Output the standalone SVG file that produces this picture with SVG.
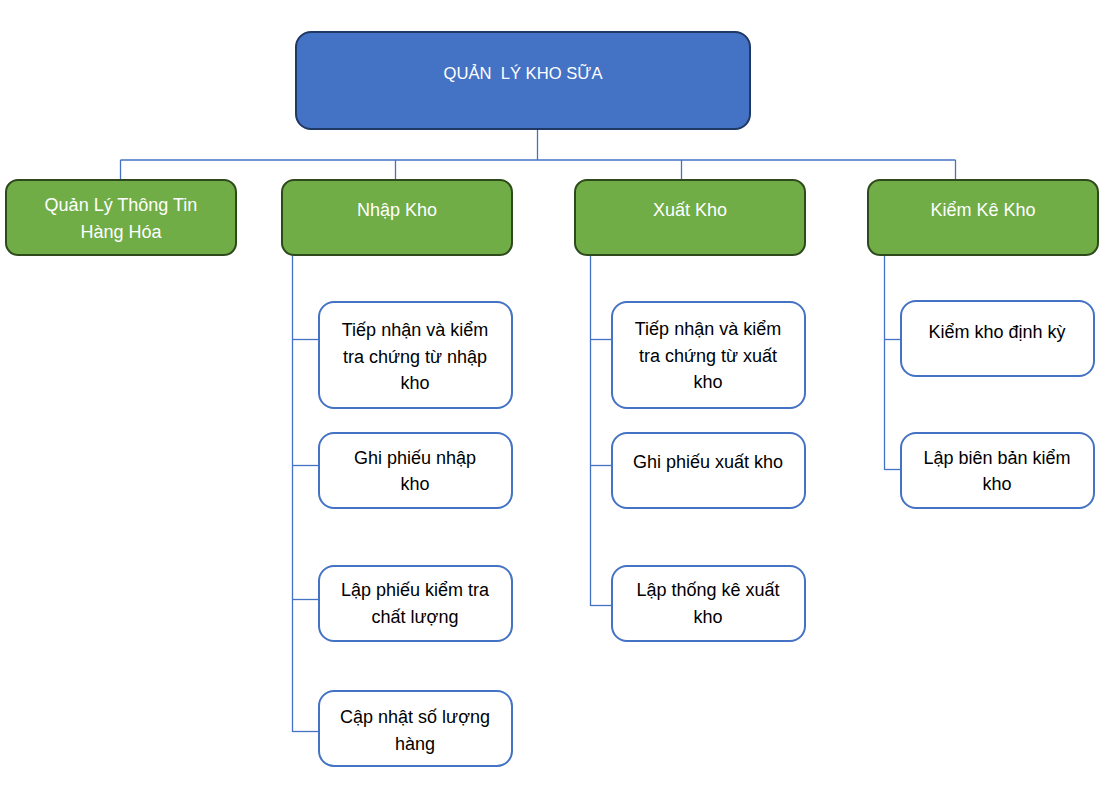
<svg xmlns="http://www.w3.org/2000/svg" width="1114" height="785" viewBox="0 0 1114 785">
<style>
.root{fill:#4472C4;stroke:#203864;stroke-width:2}
.cat{fill:#70AD47;stroke:#2E4A1C;stroke-width:2}
.leaf{fill:#FFFFFF;stroke:#4472C4;stroke-width:2}
.conn line{stroke:#4472C4;stroke-width:1.3}
text{font-family:"Liberation Sans",Arial,sans-serif;font-size:18px;text-anchor:middle}
.w{fill:#FFFFFF}
.k{fill:#000000}
.title{font-size:16.6px;white-space:pre}
</style>
<rect width="1114" height="785" fill="#FFFFFF"/>
<g id="connectors" class="conn">
<line x1="537.5" y1="129" x2="537.5" y2="160"/>
<line x1="120.5" y1="160" x2="955.5" y2="160"/>
<line x1="120.5" y1="160" x2="120.5" y2="180"/>
<line x1="395.5" y1="160" x2="395.5" y2="180"/>
<line x1="681.5" y1="160" x2="681.5" y2="180"/>
<line x1="955.5" y1="160" x2="955.5" y2="180"/>
<line x1="292.5" y1="255" x2="292.5" y2="732"/>
<line x1="292.5" y1="339.5" x2="319" y2="339.5"/>
<line x1="292.5" y1="465.5" x2="319" y2="465.5"/>
<line x1="292.5" y1="599.5" x2="319" y2="599.5"/>
<line x1="292.5" y1="731.5" x2="319" y2="731.5"/>
<line x1="590.5" y1="255" x2="590.5" y2="606"/>
<line x1="590.5" y1="339.5" x2="612" y2="339.5"/>
<line x1="590.5" y1="465.5" x2="612" y2="465.5"/>
<line x1="590.5" y1="605.5" x2="612" y2="605.5"/>
<line x1="884.5" y1="255" x2="884.5" y2="470"/>
<line x1="884.5" y1="339.5" x2="901" y2="339.5"/>
<line x1="884.5" y1="469.5" x2="901" y2="469.5"/>
</g>
<g id="root">
<rect class="root" x="296" y="32" width="454" height="97" rx="15"/>
<text class="w title" x="523" y="79">QUẢN  LÝ KHO SỮA</text>
</g>
<g id="cat-thongtin">
<rect class="cat" x="6" y="180" width="230" height="75" rx="12"/>
<text class="w" x="121" y="211">Quản Lý Thông Tin</text>
<text class="w" x="121" y="238">Hàng Hóa</text>
</g>
<g id="cat-nhap">
<rect class="cat" x="282" y="180" width="230" height="75" rx="12"/>
<text class="w" x="397" y="216">Nhập Kho</text>
</g>
<g id="cat-xuat">
<rect class="cat" x="575" y="180" width="230" height="75" rx="12"/>
<text class="w" x="690" y="216">Xuất Kho</text>
</g>
<g id="cat-kiemke">
<rect class="cat" x="868" y="180" width="230" height="75" rx="12"/>
<text class="w" x="983" y="216">Kiểm Kê Kho</text>
</g>
<g id="nhap-1">
<rect class="leaf" x="319" y="302" width="193" height="106" rx="15"/>
<text class="k" x="415" y="336">Tiếp nhận và kiểm</text>
<text class="k" x="415" y="363">tra chứng từ nhập</text>
<text class="k" x="415" y="389">kho</text>
</g>
<g id="nhap-2">
<rect class="leaf" x="319" y="433" width="193" height="75" rx="15"/>
<text class="k" x="415" y="464">Ghi phiếu nhập</text>
<text class="k" x="415" y="490">kho</text>
</g>
<g id="nhap-3">
<rect class="leaf" x="319" y="566" width="193" height="75" rx="15"/>
<text class="k" x="415" y="596">Lập phiếu kiểm tra</text>
<text class="k" x="415" y="623">chất lượng</text>
</g>
<g id="nhap-4">
<rect class="leaf" x="319" y="691" width="193" height="75" rx="15"/>
<text class="k" x="415" y="723">Cập nhật số lượng</text>
<text class="k" x="415" y="750">hàng</text>
</g>
<g id="xuat-1">
<rect class="leaf" x="612" y="302" width="193" height="106" rx="15"/>
<text class="k" x="708" y="335">Tiếp nhận và kiểm</text>
<text class="k" x="708" y="362">tra chứng từ xuất</text>
<text class="k" x="708" y="388">kho</text>
</g>
<g id="xuat-2">
<rect class="leaf" x="612" y="433" width="193" height="75" rx="15"/>
<text class="k" x="708" y="468">Ghi phiếu xuất kho</text>
</g>
<g id="xuat-3">
<rect class="leaf" x="612" y="566" width="193" height="75" rx="15"/>
<text class="k" x="708" y="596">Lập thống kê xuất</text>
<text class="k" x="708" y="623">kho</text>
</g>
<g id="kiem-1">
<rect class="leaf" x="901" y="301" width="193" height="75" rx="15"/>
<text class="k" x="997" y="338">Kiểm kho định kỳ</text>
</g>
<g id="kiem-2">
<rect class="leaf" x="901" y="433" width="193" height="75" rx="15"/>
<text class="k" x="997" y="464">Lập biên bản kiểm</text>
<text class="k" x="997" y="490">kho</text>
</g>
</svg>
